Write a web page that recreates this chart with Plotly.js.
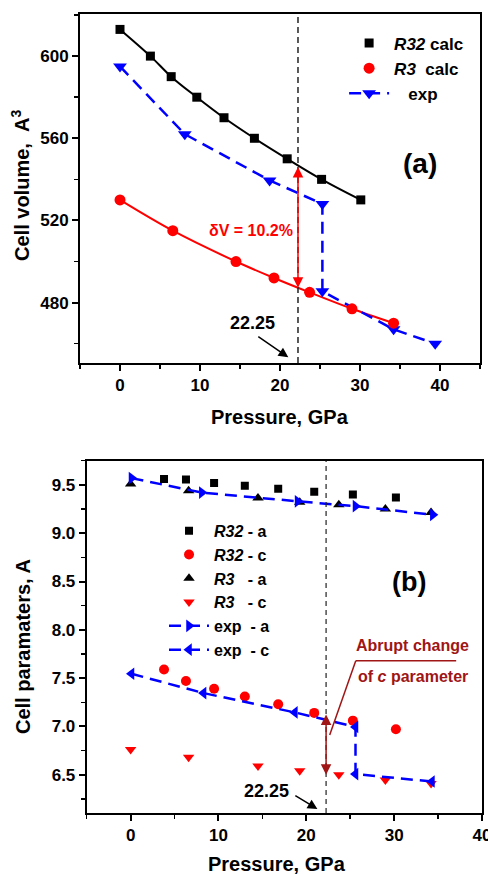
<!DOCTYPE html>
<html>
<head>
<meta charset="utf-8">
<script src="https://cdn.plot.ly/plotly-3.0.1.min.js"></script>
<style>html,body{margin:0;padding:0;background:#fff;}</style>
</head>
<body>
<div id="chart" style="width:488px;height:874px;"></div>
<script>
// ---------- Panel (a): cell volume ----------
const P_R32 = [0, 3.8, 6.4, 9.6, 13.0, 16.8, 20.9, 25.2, 30.1];
const V_R32 = [613, 600, 590, 580, 570, 560, 550, 540, 530];
const P_R3 = [0, 6.6, 14.5, 19.25, 23.7, 29.0, 34.2];
const V_R3 = [530, 515, 500, 492, 485, 477, 470];
const P_exp = [0, 8.1, 18.7, 25.3, 25.3, 34.2, 39.4];
const V_exp = [595, 562, 539.5, 528, 485.5, 467, 460];

// ---------- Panel (b): cell parameters ----------
const P_R32b = [3.8, 6.3, 9.5, 13.0, 16.8, 20.9, 25.3, 30.2];
const a_R32 = [9.56, 9.555, 9.52, 9.49, 9.46, 9.43, 9.40, 9.37];
const c_R32 = [7.59, 7.47, 7.39, 7.31, 7.23, 7.14, 7.06, 6.97];
const P_R3b = [0, 6.6, 14.5, 19.25, 23.7, 29.0, 34.2];
const a_R3 = [9.51, 9.44, 9.365, 9.32, 9.295, 9.25, 9.215];
const c_R3 = [6.76, 6.68, 6.59, 6.54, 6.50, 6.445, 6.41];
const P_expA = [0.1, 8.1, 19.0, 25.6, 34.4];
const a_exp = [9.57, 9.42, 9.33, 9.28, 9.19];
const P_expC = [0.1, 8.3, 18.7, 25.6, 25.6, 34.3];
const c_exp = [7.545, 7.345, 7.145, 6.995, 6.507, 6.43];

const P_transition = 22.25;

const FONT = 'Liberation Sans, Arial, sans-serif';
const BLUE = '#0000ff', RED = '#ff0000', DARKRED = '#a01515';
const DASH = '12px,7px';

const traces = [
  // panel a
  {x: P_R32, y: V_R32, mode: 'lines', line: {color: 'black', width: 2, shape: 'spline'}, showlegend: false, xaxis: 'x', yaxis: 'y', hoverinfo: 'skip'},
  {x: P_R3, y: V_R3, mode: 'lines', line: {color: RED, width: 2, shape: 'spline'}, showlegend: false, xaxis: 'x', yaxis: 'y', hoverinfo: 'skip'},
  {x: P_exp, y: V_exp, mode: 'lines+markers', name: '\u00a0\u00a0\u00a0exp', line: {color: BLUE, width: 2.5, dash: DASH},
   marker: {symbol: 'triangle-down', size: 12, color: BLUE}, xaxis: 'x', yaxis: 'y', legend: 'legend', legendrank: 3},
  {x: P_R32, y: V_R32, mode: 'markers', name: '<i>R32</i> calc', marker: {symbol: 'square', size: 9, color: 'black'},
   xaxis: 'x', yaxis: 'y', legend: 'legend', legendrank: 1},
  {x: P_R3, y: V_R3, mode: 'markers', name: '<i>R3</i>\u00a0 calc', marker: {symbol: 'circle', size: 11, color: RED},
   xaxis: 'x', yaxis: 'y', legend: 'legend', legendrank: 2},
  // panel b
  {x: P_R32b, y: a_R32, mode: 'markers', name: '<i>R32</i> - a', marker: {symbol: 'square', size: 8, color: 'black'},
   xaxis: 'x2', yaxis: 'y2', legend: 'legend2'},
  {x: P_R32b, y: c_R32, mode: 'markers', name: '<i>R32</i> - c', marker: {symbol: 'circle', size: 10, color: RED},
   xaxis: 'x2', yaxis: 'y2', legend: 'legend2'},
  {x: P_R3b, y: a_R3, mode: 'markers', name: '<i>R3</i>\u00a0\u00a0 - a', marker: {symbol: 'triangle-up', size: 10, color: 'black'},
   xaxis: 'x2', yaxis: 'y2', legend: 'legend2'},
  {x: P_R3b, y: c_R3, mode: 'markers', name: '<i>R3</i>\u00a0\u00a0 - c', marker: {symbol: 'triangle-down', size: 10, color: RED},
   xaxis: 'x2', yaxis: 'y2', legend: 'legend2'},
  {x: P_expA, y: a_exp, mode: 'lines+markers', name: 'exp\u00a0 - a', line: {color: BLUE, width: 2.5, dash: DASH},
   marker: {symbol: 'triangle-right', size: 11, color: BLUE}, xaxis: 'x2', yaxis: 'y2', legend: 'legend2'},
  {x: P_expC, y: c_exp, mode: 'lines+markers', name: 'exp\u00a0 - c', line: {color: BLUE, width: 2.5, dash: DASH},
   marker: {symbol: 'triangle-left', size: 11, color: BLUE}, xaxis: 'x2', yaxis: 'y2', legend: 'legend2'}
];

const tickFont = {family: FONT, size: 17, color: 'black', weight: 'bold'};
function minor(dtick) {
  return {ticks: 'outside', ticklen: 4, tickwidth: 1.5, tickcolor: 'black', dtick: dtick, tick0: 0, showgrid: false};
}
function axis(extra) {
  return Object.assign({
    showline: true, linecolor: 'black', linewidth: 2, mirror: true,
    ticks: 'outside', ticklen: 6, tickwidth: 2, tickcolor: 'black',
    showgrid: false, zeroline: false, tickfont: tickFont, ticklabeloverflow: 'allow'
  }, extra);
}

const titleFont = {family: FONT, size: 20, color: 'black', weight: 'bold'};
const annFont = (size, color, weight) => ({family: FONT, size: size, color: color, weight: weight});

const layout = {
  width: 488, height: 874,
  margin: {l: 80, r: 6, t: 14, b: 61},
  paper_bgcolor: 'white', plot_bgcolor: 'white',
  font: {family: FONT},
  xaxis: axis({domain: [0, 0.995], anchor: 'y', range: [-5, 45], tickvals: [0, 10, 20, 30, 40], minor: minor(5)}),
  yaxis: axis({domain: [0.5632, 1], anchor: 'x', range: [450.6, 620.5], tickvals: [480, 520, 560, 600], minor: minor(20)}),
  xaxis2: axis({domain: [0.0167, 1], anchor: 'y2', range: [-5, 40], tickvals: [0, 10, 20, 30, 40], minor: minor(5)}),
  yaxis2: axis({domain: [0, 0.4409], anchor: 'x2', range: [6.104, 9.75], tickvals: [6.5, 7.0, 7.5, 8.0, 8.5, 9.0, 9.5], tickformat: '.1f', minor: minor(0.25)}),
  legend: {x: 0.657, y: 0.9856, xanchor: 'left', yanchor: 'top', bgcolor: 'rgba(0,0,0,0)', borderwidth: 0, itemwidth: 40,
           font: {family: FONT, size: 17, color: 'black', weight: 'bold'}, traceorder: 'normal'},
  legend2: {x: 0.209, y: 0.3745, xanchor: 'left', yanchor: 'top', bgcolor: 'rgba(0,0,0,0)', borderwidth: 0, itemwidth: 40,
            font: {family: FONT, size: 16, color: 'black', weight: 'bold'}, traceorder: 'normal'},
  shapes: [
    {type: 'line', xref: 'x', yref: 'y domain', x0: P_transition, x1: P_transition, y0: 0, y1: 1,
     line: {color: '#222', width: 1.5, dash: '6px,4px'}},
    {type: 'line', xref: 'x2', yref: 'y2 domain', x0: P_transition, x1: P_transition, y0: 0, y1: 1,
     line: {color: '#222', width: 1.2, dash: '5px,4px'}},
    {type: 'line', xref: 'x2', yref: 'y2', x0: 25.63, y0: 7.68, x1: 37.06, y1: 7.68, line: {color: DARKRED, width: 1.5}},
    {type: 'line', xref: 'x2', yref: 'y2', x0: 25.63, y0: 7.68, x1: 22.66, y1: 6.91, line: {color: DARKRED, width: 1.5}}
  ],
  annotations: [
    // axis titles
    {xref: 'paper', yref: 'paper', x: -0.1468, y: 0.786, text: 'Cell volume,\u00a0\u00a0A<sup>3</sup>', textangle: -90,
     showarrow: false, xanchor: 'center', yanchor: 'middle', font: titleFont},
    {xref: 'paper', yref: 'paper', x: -0.1418, y: 0.209, text: 'Cell paramaters, A', textangle: -90,
     showarrow: false, xanchor: 'center', yanchor: 'middle', font: titleFont},
    {xref: 'paper', yref: 'paper', x: 0.4975, y: 0.4956, text: 'Pressure, GPa',
     showarrow: false, xanchor: 'center', yanchor: 'middle', font: titleFont},
    {xref: 'paper', yref: 'paper', x: 0.49, y: -0.0638, text: 'Pressure, GPa',
     showarrow: false, xanchor: 'center', yanchor: 'middle', font: titleFont},
    // panel a
    {xref: 'x', yref: 'y', x: 37.56, y: 547.8, text: '(a)', showarrow: false, font: annFont(28, 'black', 'bold')},
    {xref: 'x', yref: 'y', x: 16.4, y: 515, text: '\u03b4V = 10.2%', showarrow: false, font: annFont(16, RED, 'bold')},
    {xref: 'x', yref: 'y', x: 16.6, y: 470, text: '22.25', showarrow: false, font: annFont(18, 'black', 'bold')},
    {xref: 'x', yref: 'y', axref: 'x', ayref: 'y', x: 21.04, y: 453.4, ax: 17.1, ay: 463.9, text: '',
     showarrow: true, arrowhead: 2, arrowsize: 1.3, arrowwidth: 1.5, arrowcolor: 'black'},
    {xref: 'x', yref: 'y', axref: 'x', ayref: 'y', x: P_transition, y: 487.2, ax: P_transition, ay: 546.8, text: '',
     showarrow: true, arrowside: 'end+start', arrowhead: 2, startarrowhead: 2, arrowsize: 1.4, startarrowsize: 1.4,
     arrowwidth: 1.5, arrowcolor: RED},
    // panel b
    {xref: 'x2', yref: 'y2', x: 31.7, y: 8.49, text: '(b)', showarrow: false, font: annFont(27, 'black', 'bold')},
    {xref: 'x2', yref: 'y2', x: 32.1, y: 7.834, text: 'Abrupt change', showarrow: false, font: annFont(16, DARKRED, 'bold')},
    {xref: 'x2', yref: 'y2', x: 32.1, y: 7.517, text: 'of <i>c</i> parameter', showarrow: false, font: annFont(16, DARKRED, 'bold')},
    {xref: 'x2', yref: 'y2', x: 15.5, y: 6.327, text: '22.25', showarrow: false, font: annFont(18, 'black', 'bold')},
    {xref: 'x2', yref: 'y2', axref: 'x2', ayref: 'y2', x: 21.26, y: 6.145, ax: 18.58, ay: 6.293, text: '',
     showarrow: true, arrowhead: 2, arrowsize: 1.3, arrowwidth: 1.5, arrowcolor: 'black'},
    {xref: 'x2', yref: 'y2', axref: 'x2', ayref: 'y2', x: P_transition, y: 6.5, ax: P_transition, ay: 7.14, text: '',
     showarrow: true, arrowside: 'end+start', arrowhead: 2, startarrowhead: 2, arrowsize: 1.4, startarrowsize: 1.4,
     arrowwidth: 1.5, arrowcolor: DARKRED}
  ]
};

Plotly.newPlot('chart', traces, layout, {staticPlot: true, displayModeBar: false});
</script>
</body>
</html>
